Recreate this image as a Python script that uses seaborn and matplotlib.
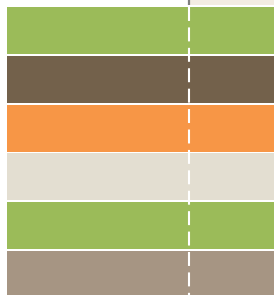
import matplotlib
matplotlib.use("Agg")
import matplotlib.pyplot as plt
import seaborn as sns
import pandas as pd

# Data (the chart is a cropped view: bars run past the right edge)
categories = ["Top", "A", "B", "C", "D", "E", "F"]
values = [100, 100, 100, 100, 100, 100, 100]
top_offset = [68.35, 0, 0, 0, 0, 0, 0]   # start of the partial top bar
colors = ["#F3ECE2", "#9BBB59", "#73614B", "#F79646", "#E3DED1", "#9BBB59", "#A69583"]
marker_value = 68.35

sns.set_style("white")
fig = plt.figure(figsize=(2.74, 2.95), dpi=100)
ax = fig.add_axes([7 / 274, 0, 1 - 7 / 274, 1])

df = pd.DataFrame({"cat": categories, "val": values, "off": top_offset})
sns.barplot(data=df, y="cat", x="val", hue="cat", palette=colors, orient="h",
            width=0.96, ax=ax, legend=False, saturation=1, linewidth=0)
# white-out the offset portion of the top bar (stacked segment)
sns.barplot(data=df, y="cat", x="off", color="white", orient="h",
            width=0.985, ax=ax, saturation=1, linewidth=0)

# dashed reference line across the main bars and solid marker in the top row
ax.vlines(marker_value, 0.52, 6.6, color="white", lw=1.5, ls=(0, (6.7, 3.1)), zorder=5)
ax.vlines(marker_value, -0.5, 0.48, color="#7F7F7F", lw=1.6, zorder=6)

ax.set_xlim(0, 100)
ax.set_ylim(6.42, 0.375)
ax.axis("off")
fig.savefig("out.png", dpi=100)
